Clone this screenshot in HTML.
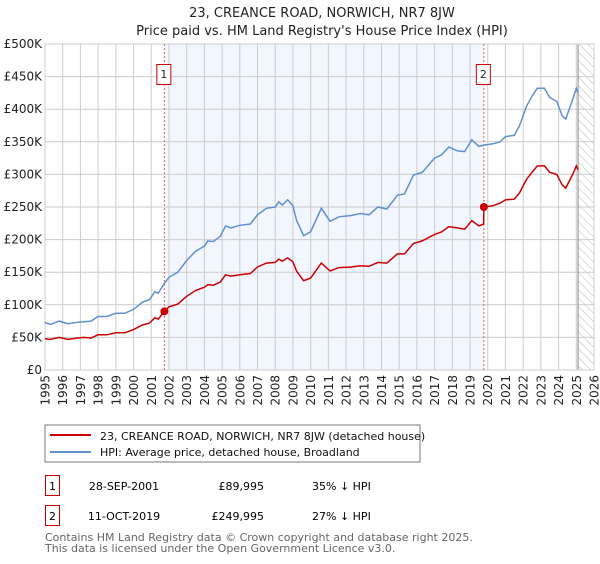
<!DOCTYPE html>
<html><head><meta charset="utf-8"><style>
body{margin:0;background:#fff;font-family:"DejaVu Sans","Liberation Sans",sans-serif;}
svg text{font-family:"DejaVu Sans","Liberation Sans",sans-serif;}
</style></head><body>
<svg id="c" width="600" height="560" xmlns="http://www.w3.org/2000/svg">
<defs><pattern id="hatch" width="6" height="6" patternUnits="userSpaceOnUse" patternTransform="rotate(-45)"><line x1="0" y1="0" x2="0" y2="6" stroke="#bbb" stroke-width="1"/></pattern></defs>
<text x="322" y="17" text-anchor="middle" font-size="13" fill="#222">23, CREANCE ROAD, NORWICH, NR7 8JW</text>
<text x="322" y="35" text-anchor="middle" font-size="13" fill="#222">Price paid vs. HM Land Registry's House Price Index (HPI)</text>
<g id="plot"></g>
<rect x="45" y="425" width="375" height="37" fill="#fff" stroke="#777"/>
<line x1="50" y1="435" x2="91" y2="435" stroke="#cc0000" stroke-width="2"/>
<text x="100" y="440" font-size="11" fill="#111">23, CREANCE ROAD, NORWICH, NR7 8JW (detached house)</text>
<line x1="50" y1="452" x2="91" y2="452" stroke="#6090d0" stroke-width="2"/>
<text x="100" y="456" font-size="11" fill="#111">HPI: Average price, detached house, Broadland</text>
<g>
<rect x="45.5" y="475.5" width="14" height="20" fill="none" stroke="#cc0000"/>
<text x="52.5" y="490" text-anchor="middle" font-size="11">1</text>
<text x="124" y="490" text-anchor="middle" font-size="11">28-SEP-2001</text>
<text x="264" y="490" text-anchor="end" font-size="11">£89,995</text>
<text x="312" y="490" font-size="11">35% ↓ HPI</text></g>
<g>
<rect x="45.5" y="505.5" width="14" height="20" fill="none" stroke="#cc0000"/>
<text x="52.5" y="520" text-anchor="middle" font-size="11">2</text>
<text x="124" y="520" text-anchor="middle" font-size="11">11-OCT-2019</text>
<text x="264" y="520" text-anchor="end" font-size="11">£249,995</text>
<text x="312" y="520" font-size="11">27% ↓ HPI</text></g>
<text x="45" y="541" font-size="11" fill="#666">Contains HM Land Registry data © Crown copyright and database right 2025.</text>
<text x="45" y="552" font-size="11" fill="#666">This data is licensed under the Open Government Licence v3.0.</text>
</svg>
<script>
const hpiYears=[1995.0,1995.3,1995.8,1996.3,1996.8,1997.2,1997.6,1998.0,1998.5,1999.0,1999.5,2000.0,2000.5,2000.9,2001.2,2001.4,2001.74,2002.0,2002.5,2003.0,2003.5,2004.0,2004.2,2004.5,2004.9,2005.2,2005.5,2006.0,2006.6,2007.0,2007.5,2008.0,2008.2,2008.4,2008.7,2009.0,2009.2,2009.6,2010.0,2010.6,2011.1,2011.6,2012.3,2012.8,2013.3,2013.8,2014.3,2014.9,2015.3,2015.8,2016.3,2017.0,2017.4,2017.8,2018.3,2018.7,2019.1,2019.5,2019.78,2020.3,2020.7,2021.0,2021.5,2021.8,2022.2,2022.5,2022.8,2023.2,2023.5,2023.9,2024.2,2024.4,2024.8,2025.0,2025.1];
const hpiValues=[73,70,75,71,73,74,75,82,82,87,87,93,104,108,120,118,133,142,150,168,182,190,198,197,205,221,218,222,224,238,248,250,258,253,261,252,230,206,212,248,228,235,237,240,238,250,247,268,270,299,303,325,330,342,336,335,353,343,345,347,350,358,360,375,405,420,432,432,418,412,390,385,415,432,425];
const priceYears=[1995.0,1995.3,1995.8,1996.3,1996.8,1997.2,1997.6,1998.0,1998.5,1999.0,1999.5,2000.0,2000.5,2000.9,2001.2,2001.4,2001.74,2002.0,2002.5,2003.0,2003.5,2004.0,2004.2,2004.5,2004.9,2005.2,2005.5,2006.0,2006.6,2007.0,2007.5,2008.0,2008.2,2008.4,2008.7,2009.0,2009.2,2009.6,2010.0,2010.6,2011.1,2011.6,2012.3,2012.8,2013.3,2013.8,2014.3,2014.9,2015.3,2015.8,2016.3,2017.0,2017.4,2017.8,2018.3,2018.7,2019.1,2019.5,2019.77,2019.78,2020.3,2020.7,2021.0,2021.5,2021.8,2022.2,2022.5,2022.8,2023.2,2023.5,2023.9,2024.2,2024.4,2024.8,2025.0,2025.1];
const priceValues=[48,47,50,47,49,50,49,54,54,57,57,62,69,72,80,78,89.995,97,101,113,122,127,131,130,135,146,144,146,148,158,164,165,170,167,172,166,152,137,141,164,152,157,158,160,159,165,164,178,178,194,198,208,212,220,218,216,229,221,224,249.995,252,256,261,262,272,293,303,313,313,303,300,284,279,300,313,307];
const saleYears=[2001.74,2019.78];
const saleValues=[89.995,249.995];
const saleLabels=["1","2"];
const yTicks=[0,50,100,150,200,250,300,350,400,450,500];
const yTickLabels=["£0","£50K","£100K","£150K","£200K","£250K","£300K","£350K","£400K","£450K","£500K"];
const xTicks=[1995,1996,1997,1998,1999,2000,2001,2002,2003,2004,2005,2006,2007,2008,2009,2010,2011,2012,2013,2014,2015,2016,2017,2018,2019,2020,2021,2022,2023,2024,2025,2026];
const hatchStart=2025.1;

const L=45,R=594,T=44,B=370,X0=1995,X1=2026,YMAX=500;
const xs=v=>L+(v-X0)/(X1-X0)*(R-L);
const ys=v=>B-v/YMAX*(B-T);
const NS="http://www.w3.org/2000/svg";
const g=document.getElementById('plot');
function mk(t,a,p){const e=document.createElementNS(NS,t);for(const k in a)e.setAttribute(k,a[k]);(p||g).appendChild(e);return e;}
let e=mk('rect',{x:xs(saleYears[0]),y:T,width:xs(saleYears[1])-xs(saleYears[0]),height:B-T,fill:'#f2f6fe'});


e=mk('rect',{x:xs(hatchStart),y:T,width:R-xs(hatchStart),height:B-T,fill:'url(#hatch)'});


yTicks.forEach((v,i)=>{
 mk('line',{x1:L,x2:R,y1:ys(v),y2:ys(v),stroke:'#ccc','stroke-width':1});
 const t=mk('text',{x:L-3,y:ys(v)+4,'text-anchor':'end','font-size':12,fill:'#222'});t.textContent=yTickLabels[i];
 
 
});
xTicks.forEach(v=>{
 mk('line',{x1:xs(v),x2:xs(v),y1:T,y2:B,stroke:'#ccc','stroke-width':1});
 const t=mk('text',{x:0,y:0,'text-anchor':'end','font-size':12,fill:'#222',transform:`translate(${xs(v)+4.5},${B+5}) rotate(-90)`});t.textContent=v;
 
 
});
e=mk('line',{x1:xs(hatchStart),x2:xs(hatchStart),y1:T,y2:B,stroke:'#888','stroke-width':1});


mk('rect',{x:L,y:T,width:R-L,height:B-T,fill:'none',stroke:'#ccc'});
saleYears.forEach((v,i)=>{
 mk('line',{x1:xs(v),x2:xs(v),y1:T,y2:B,stroke:'#e06060','stroke-width':1,'stroke-dasharray':'2,2'});
});
function path(xa,va){return xa.map((x,i)=>(i?'L':'M')+xs(x).toFixed(1)+','+ys(va[i]).toFixed(1)).join('');}
e=mk('path',{d:path(hpiYears,hpiValues),fill:'none',stroke:'#6090d0','stroke-width':1.5});


e=mk('path',{d:path(priceYears,priceValues),fill:'none',stroke:'#cc0000','stroke-width':1.5});


saleYears.forEach((v,i)=>{
 const c=mk('circle',{cx:xs(v),cy:ys(saleValues[i]),r:4,fill:'#cc0000'});
 
 
 const bx=mk('rect',{x:xs(v)-7.5,y:64.5,width:14,height:20,fill:'#fff',stroke:'#cc0000'});
 
 
 const t=mk('text',{x:xs(v)-0.5,y:78,'text-anchor':'middle','font-size':11,fill:'#222'});t.textContent=saleLabels[i];
 
 
});
</script>
</body></html>
